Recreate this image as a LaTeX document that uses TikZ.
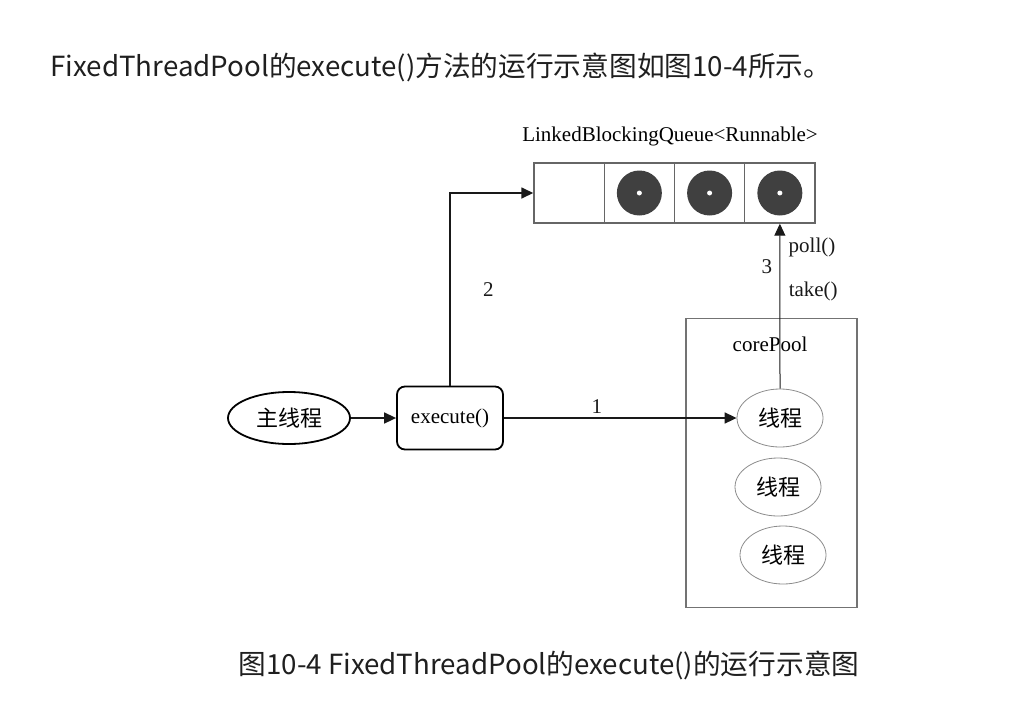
\documentclass[tikz,border=0pt]{standalone}
\usepackage{fontspec}
\setmainfont{Liberation Serif}
\newfontfamily\cjk{Noto Sans CJK SC}
\usepackage{tikz}
\usetikzlibrary{positioning, arrows, arrows.meta, shapes.geometric}

\begin{document}
\begin{tikzpicture}[x=1pt, y=-1pt, >={Triangle[length=12pt, width=11pt]},
    every node/.style={font=\fontsize{21}{25}\selectfont},
    flow/.style={->, line width=1.6pt, black!90},
    cell/.style={draw=black!60, line width=1.4pt, minimum width=70.25pt, minimum height=60pt, inner sep=0pt},
    item/.style={circle, fill=black!75, minimum size=45pt, inner sep=0pt},
    worker/.style={ellipse, draw=black!45, line width=0.8pt, minimum width=86pt, minimum height=58pt, font=\cjk\fontsize{22}{26}\selectfont},
    heading/.style={font=\cjk\fontsize{27.7}{32}\selectfont, text=black!88}]
    \useasboundingbox (0,0) rectangle (1032,709);
    \node[heading, anchor=west] (title) at (47,67) {FixedThreadPool的execute()方法的运行示意图如图10-4所示。};
    \node[heading] (caption) at (549,665) {图10-4 FixedThreadPool的execute()的运行示意图};
    % queue
    \node (qname) at (670,136) {LinkedBlockingQueue<Runnable>};
    \foreach \i in {0,...,3} {
        \node[cell] (q\i) at ({569.1+70.25*\i},193) {};
    };
    \foreach \i in {1,...,3} {
        \node[item] (t\i) at (q\i) {};
        \fill[white] (t\i) circle (2.5pt);
    };
    % caller
    \node[ellipse, draw, line width=1.8pt, minimum width=122pt, minimum height=52pt, font=\cjk\fontsize{22}{26}\selectfont] (main) at (289,418) {主线程};
    \node[draw, rounded corners=8pt, line width=1.8pt, minimum width=106pt, minimum height=63pt] (exec) at (450,418) {execute()};
    % pool
    \node[draw=black!55, line width=1.6pt, minimum width=171pt, minimum height=289pt] (pool) at (771.5,463) {};
    \node (poolname) at (770,344) {corePool};
    \node[worker] (w1) at (780,418) {线程};
    \node[worker] (w2) at (778,487) {线程};
    \node[worker] (w3) at (783,555) {线程};
    % connectors
    \draw[flow] (main) -- (exec);
    \draw[flow] (exec) -- node[above, pos=0.4] {1} (w1);
    \draw[flow] (exec.north) |- node[pos=0.25, right=29pt] {2} (q0.west);
    \draw[flow, line width=1pt] (w1.north) -- node[pos=0.74, left=4pt] {3}
        node[pos=0.856, right=5pt] {poll()}
        node[pos=0.587, right=5pt] {take()} (q3.south);
\end{tikzpicture}
\end{document}
